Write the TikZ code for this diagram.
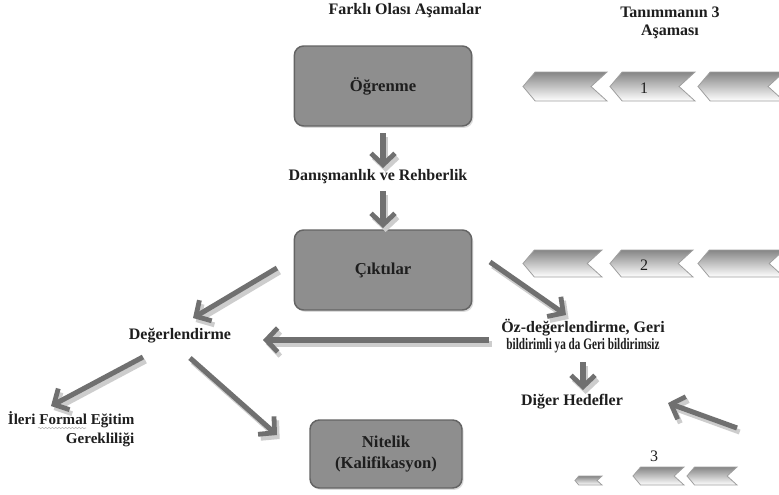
\documentclass[tikz,border=0pt]{standalone}
\usepackage{fontspec}
\setmainfont{Liberation Serif}
\usetikzlibrary{arrows.meta,shadows,decorations.pathmorphing}
\definecolor{boxgray}{RGB}{142,142,142}
\definecolor{boxedge}{RGB}{100,100,100}
\definecolor{arrgray}{RGB}{112,112,112}
\definecolor{shgray}{RGB}{205,205,205}
\definecolor{txt}{RGB}{30,30,30}
\newcommand\mychev[4]{% x0, x1, ytop, ybot
  \pgfmathsetmacro\hh{#4-#3}%
  \path[chev] (#1,{(#3+#4)/2}) -- ({#1+0.42*\hh},#3) -- (#2,#3) -- ({#2-0.55*\hh},{(#3+#4)/2}) -- (#2,#4) -- ({#1+0.42*\hh},#4) -- cycle;}
\newcommand\conn[2]{\draw[gshadow] (#1) -- (#2); \draw[garrow] (#1) -- (#2);}
\begin{document}
\begin{tikzpicture}[x=0.75pt,y=-0.75pt,
  font=\fontsize{12}{14}\selectfont\bfseries, text=txt,
  box/.style={draw=boxedge, line width=1.1pt, rounded corners=7pt, fill=boxgray,
    drop shadow={shadow xshift=1.2pt, shadow yshift=-1.4pt, fill=gray!55},
    minimum width=133pt, minimum height=60pt, align=center, font=\fontsize{12.5}{15.5}\selectfont\bfseries},
  garrow/.style={draw=arrgray, line width=3.8pt,
    -{Straight Barb[length=8.5pt,width=18pt,line width=3.6pt]}},
  gshadow/.style={garrow, draw=shgray, transform canvas={shift={(2pt,-3pt)}}},
  chev/.style={draw=gray!75, line width=0.6pt, top color=gray!95, middle color=gray!45, bottom color=white},
  num/.style={font=\fontsize{12}{14}\selectfont\mdseries}]
\useasboundingbox (0,0) rectangle (779,494);
\fill[white] (0,0) rectangle (779,494);

% headings
\node (title) at (405,11) {Farklı Olası Aşamalar};
\node[align=center] (tan) at (670,23) {Tanımmanın 3\\Aşaması};

% boxes
\node[box] (ogr) at (383,86) {Öğrenme};
\node[box] (cik) at (383,270) {Çıktılar};
\node[box, minimum width=114pt, minimum height=51pt] (nit) at (386,454) {Nitelik\\(Kalifikasyon)};

% labels
\node (dan) at (378,177) {Danışmanlık ve Rehberlik};
\node (deg) at (180,336) {Değerlendirme};
\node[align=center] (oz) at (583,336) {Öz-değerlendirme, Geri\\[-1pt]\scalebox{0.7}[1]{bildirimli ya da Geri bildirimsiz}};
\node (dig) at (572,402) {Diğer Hedefler};
\node[align=right, anchor=east, font=\fontsize{11.3}{14}\selectfont\bfseries] (ileri) at (139,429) {İleri Formal Eğitim\\Gerekliliği};
\draw[gray!60, line width=0.4pt, decorate, decoration={snake, amplitude=0.5pt, segment length=2.5pt}] (38,428) -- (86,428);

% arrow end points
\coordinate (a1s) at (383,133); \coordinate (a1e) at (383,168);
\coordinate (a2s) at (383,191); \coordinate (a2e) at (383,228);
\coordinate (a3s) at (277,268); \coordinate (a3e) at (193,318);
\coordinate (a4s) at (490,262); \coordinate (a4e) at (566,315);
\coordinate (a5s) at (489,340); \coordinate (a5e) at (263,340);
\coordinate (a6s) at (583,362); \coordinate (a6e) at (583,390);
\coordinate (a7s) at (737,428); \coordinate (a7e) at (668,403);
\coordinate (a8s) at (143,357); \coordinate (a8e) at (51,406);
\coordinate (a9s) at (190,358); \coordinate (a9e) at (277,435);

\conn{a1s}{a1e}
\conn{a2s}{a2e}
\conn{a3s}{a3e}
\conn{a4s}{a4e}
\conn{a5s}{a5e}
\conn{a6s}{a6e}
\conn{a7s}{a7e}
\conn{a8s}{a8e}
\conn{a9s}{a9e}

% chevrons
\mychev{523}{607}{72}{101}
\mychev{610}{695}{72}{101}
\mychev{698}{784}{72}{101}
\node[num] (n1) at (644,88) {1};
\mychev{523}{602}{250}{277}
\mychev{610}{693}{250}{277}
\mychev{698}{784}{250}{277}
\node[num] (n2) at (644,265) {2};
\mychev{575}{602}{476}{485}
\mychev{633}{684}{467}{485}
\mychev{687}{737}{467}{485}
\node[num] (n3) at (654,456) {3};
\end{tikzpicture}
\end{document}
